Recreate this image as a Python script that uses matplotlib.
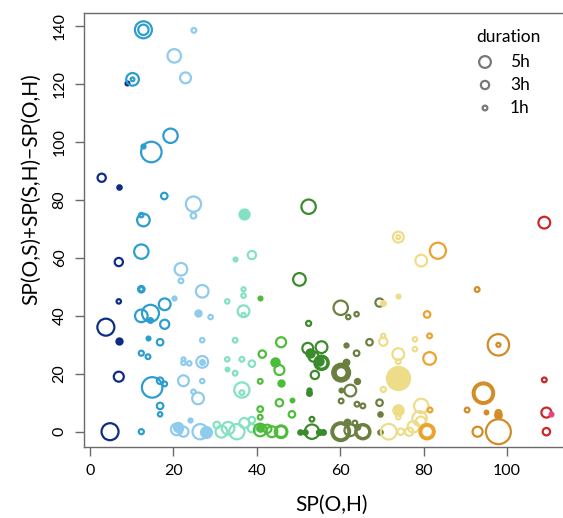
"""
Bubble scatter of SP(O,H) against SP(O,S)+SP(S,H)-SP(O,H).
Circle size encodes duration, colour follows the SP(O,H) band.
"""

import numpy as np
import matplotlib
matplotlib.use("Agg")
import matplotlib.pyplot as plt

plt.rcParams["font.family"] = ["Lato", "DejaVu Sans"]

# --- data ----------------------------------------------------------------
sp_oh = [
    # 0-10
    2.8, 6.9, 8.8, 6.9, 6.9, 3.8, 6.9, 6.9, 4.8,
    # 10-20
    12.8, 12.8, 10.2, 10.2, 19.3, 14.7, 12.8, 17.8, 12.8, 12.3, 12.3, 12.3, 12.3,
    17.9, 12.3, 14.5, 14.5, 17.9, 13.9, 16.8, 12.3, 13.9, 14.9, 16.8, 17.9,
    16.8, 16.8, 12.3,
    # 20-30
    24.9, 20.2, 22.9, 24.8, 24.8, 21.8, 21.8, 26.9, 20.2, 25.9, 28.9, 26.9,
    22.4, 23.8, 22.4, 26.9, 26.9, 22.4, 26.9, 25.9, 24.8, 24.0, 20.8, 21.0,
    22.4, 26.4, 27.8,
    # 30-40
    36.8, 34.8, 38.8, 36.8, 36.8, 32.9, 36.8, 36.8, 34.8, 32.9, 36.4, 38.8,
    32.9, 34.8, 36.4, 36.4, 30.4, 33.1, 35.2, 38.8, 38.8, 31.5, 37.0,
    # 40-50
    40.8, 45.8, 41.3, 44.4, 45.4, 40.8, 45.8, 48.4, 45.4, 40.8, 40.8, 48.4,
    40.8, 40.8, 43.6, 45.8, 45.8, 42.5,
    # 50-60
    52.4, 50.2, 52.4, 52.2, 55.5, 52.8, 53.6, 55.5, 55.5, 55.0, 53.9, 52.4,
    52.4, 53.2, 50.4, 51.5, 53.2, 55.0, 55.9,
    # 60-70
    60.1, 61.9, 63.9, 69.4, 61.4, 67.0, 63.9, 60.2, 60.2, 60.2, 60.2, 60.2,
    61.4, 62.4, 63.9, 60.2, 60.2, 64.0, 65.4, 69.4, 69.4, 61.6, 63.5, 60.1,
    60.1, 60.1, 62.4, 65.4, 65.4, 64.2, 69.4,
    # 70-80
    73.9, 73.9, 79.4, 73.9, 70.2, 70.3, 70.3, 77.9, 77.9, 73.9, 73.9, 73.9,
    70.3, 73.9, 73.9, 79.4, 79.0, 79.3, 71.6, 77.5, 76.5, 74.5,
    # 80-90
    83.4, 80.8, 81.4, 81.4, 81.5, 80.8, 80.8, 80.8,
    # 90-100
    92.8, 97.9, 97.9, 94.3, 94.3, 90.4, 95.0, 97.9, 97.9, 92.9, 97.9,
    # 100+
    108.9, 108.9, 109.4, 109.4, 110.4,
]

sp_diff = [
    87.7, 84.6, 120.3, 58.6, 45.0, 36.1, 31.4, 19.0, 0.0,
    138.8, 138.8, 121.7, 121.7, 102.2, 96.6, 98.7, 81.4, 73.1, 74.8, 62.2, 49.2, 49.2,
    44.0, 40.0, 40.9, 38.6, 37.1, 32.5, 30.9, 27.1, 25.9, 15.3, 17.6, 16.5,
    8.9, 6.0, 0.0,
    138.6, 129.8, 122.2, 78.6, 74.6, 56.1, 52.1, 48.5, 46.1, 41.1, 39.6, 31.6,
    23.8, 23.6, 25.0, 24.1, 24.1, 17.6, 17.5, 11.5, 13.8, 4.0, 0.8, 1.5,
    0.0, 0.0, 0.0,
    75.1, 59.5, 61.0, 49.2, 47.0, 45.0, 41.6, 40.3, 31.6, 25.0, 25.0, 23.5,
    21.6, 20.2, 14.4, 13.5, 2.3, 1.2, 0.0, 1.2, 4.0, 0.0, 3.0,
    46.1, 30.9, 26.8, 24.0, 21.3, 17.4, 16.7, 10.8, 10.0, 7.8, 5.0, 6.0,
    0.6, 1.2, 0.0, 0.0, 0.0, 1.0,
    77.7, 52.6, 37.4, 28.8, 29.2, 27.1, 25.9, 23.8, 23.8, 24.5, 19.6, 13.3,
    14.5, 4.3, 0.0, 0.0, 0.0, 0.0, 0.0,
    42.8, 39.6, 40.6, 44.6, 30.0, 30.9, 27.1, 20.4, 20.4, 20.4, 20.4, 20.4,
    24.2, 14.2, 17.5, 14.4, 10.6, 9.5, 8.9, 10.0, 6.0, 3.5, 3.0, 0.0,
    0.0, 0.0, 0.5, 0.0, 0.0, 1.5, 0.0,
    67.2, 67.2, 59.1, 47.0, 44.6, 31.1, 33.1, 31.9, 28.5, 26.8, 24.2, 18.4,
    14.6, 7.5, 5.0, 8.9, 4.6, 3.5, 0.0, 1.7, 0.0, 0.0,
    62.5, 40.5, 33.1, 25.3, 7.5, 0.0, 0.0, 0.0,
    49.1, 30.0, 30.0, 13.3, 13.3, 7.5, 6.9, 5.8, 6.5, 0.0, 0.0,
    72.2, 17.9, 6.6, 0.0, 6.1,
]

duration = [
    3, 0.8, 0.5, 3, 0.8, 8, 1.8, 4, 8,
    8, 4.2, 5.5, 0.4, 6.5, 10, 0.6, 2, 5.5, 0.8, 6.5, 2, 0.8,
    5, 5.5, 8, 1, 3.5, 0.5, 2, 1.2, 1, 10, 2, 1,
    2, 0.8, 1.2,
    1, 6, 4.5, 7, 1.5, 5.5, 1, 5.5, 0.6, 1.8, 0.8, 0.8,
    0.8, 0.8, 0.5, 5, 1, 4.5, 0.8, 5, 0.8, 0.6, 5, 3.5,
    4, 7, 4.5,
    4, 0.5, 3, 0.6, 0.8, 0.8, 5, 0.6, 1, 0.8, 1, 2,
    0.4, 1, 7, 1, 2, 5.5, 7, 3, 2, 5, 4,
    0.5, 4, 2.5, 3, 4, 1, 1.8, 0.4, 2.5, 1.5, 1, 2,
    5.5, 2, 4.5, 5.5, 4.5, 3,
    6.5, 5.5, 1.2, 4.5, 5, 3, 4, 6.5, 5, 3, 3, 1,
    0.6, 1, 0.8, 0.8, 6.5, 1.2, 1,
    6.5, 0.8, 0.8, 3, 0.6, 2, 1.5, 8.5, 7.5, 6.5, 5.5, 4.5,
    1.5, 5, 1.2, 0.5, 1, 1, 1, 2, 0.8, 1.5, 1, 9,
    8, 7, 5, 7, 5.5, 1, 0.8,
    4.5, 0.6, 5, 0.5, 1, 3, 0.8, 0.8, 0.8, 5, 1, 11.5,
    1.2, 4.2, 0.8, 6.5, 6.5, 4, 7.3, 4.8, 3, 2,
    7.5, 2, 1, 5.5, 1, 7, 6, 5,
    1, 10.5, 0.6, 10.5, 8.5, 1, 0.4, 2, 1.5, 4, 12.5,
    5, 1, 4, 2.5, 0.5,
]

filled = [
    0, 1, 1, 0, 0, 0, 1, 0, 0,
    0, 0, 0, 0, 0, 0, 1, 0, 0, 0, 0, 0, 0,
    0, 0, 0, 1, 0, 1, 0, 0, 0, 0, 0, 0,
    0, 0, 0,
    0, 0, 0, 0, 0, 0, 0, 0, 1, 1, 0, 0,
    0, 0, 0, 0, 1, 0, 0, 0, 0, 1, 0, 1,
    0, 0, 1,
    1, 1, 0, 0, 0, 0, 0, 0, 0, 0, 0, 0,
    1, 0, 0, 0, 0, 0, 0, 0, 0, 0, 0,
    1, 0, 0, 1, 0, 0, 1, 1, 0, 0, 0, 0,
    0, 1, 0, 0, 0, 0,
    0, 0, 0, 0, 0, 1, 0, 0, 0, 1, 0, 1,
    1, 0, 1, 1, 0, 1, 1,
    0, 0, 0, 0, 1, 0, 0, 0, 0, 0, 0, 0,
    1, 0, 1, 1, 0, 0, 0, 0, 1, 1, 0, 0,
    0, 0, 0, 0, 0, 0, 1,
    0, 0, 0, 1, 1, 0, 0, 0, 0, 0, 0, 1,
    0, 1, 0, 0, 0, 0, 0, 0, 0, 0,
    0, 0, 0, 0, 0, 0, 0, 0,
    0, 0, 0, 0, 0, 0, 1, 1, 0, 0, 0,
    0, 0, 0, 0, 1,
]

band_edges = [10, 20, 30, 40, 50, 60, 70, 80, 90, 100, 110]
band_colors = ["#0c2c86", "#2b9dcf", "#8ecbec", "#84e2c0", "#4dbc3a", "#3b8a2b",
               "#6b8040", "#eedd88", "#eca22f", "#d38b25", "#cc2727", "#e6457f"]

legend_hours = [5, 3, 1]
legend_labels = ["5h", "3h", "1h"]

# --- helpers --------------------------------------------------------------
DPI = 100
LW_PX = 2.2


def marker_area(hours):
    """Scatter area (pt^2) for a duration; diameter grows linearly."""
    diam_px = 3.0 + 1.75 * np.asarray(hours, dtype=float)
    return (diam_px * 72.0 / DPI) ** 2


x = np.array(sp_oh)
y = np.array(sp_diff)
d = np.array(duration)
solid = np.array(filled, dtype=bool)
colors = np.array(band_colors)[np.digitize(x, band_edges)]

# --- figure ---------------------------------------------------------------
fig = plt.figure(figsize=(5.63, 5.18), dpi=DPI)
ax = fig.add_axes([84 / 563, 71.3 / 518, 482 / 563, 433.4 / 518])

lw_pt = LW_PX * 72.0 / DPI
for i in range(len(x)):
    ax.scatter(x[i], y[i], s=marker_area(d[i]),
               facecolors=colors[i] if solid[i] else "none",
               edgecolors=colors[i], linewidths=lw_pt, zorder=3)

ax.set_xlim(-1.44, 114.1)
ax.set_ylim(-5.18, 144.5)
ax.set_xticks([0, 20, 40, 60, 80, 100])
ax.set_yticks([0, 20, 40, 60, 80, 100, 120, 140])

for side in ["left", "bottom", "top", "right"]:
    ax.spines[side].set_color("#6a6a6a")
    ax.spines[side].set_linewidth(1.0)
ax.tick_params(axis="both", direction="out", length=6.5, width=1.0,
               color="#6a6a6a", labelsize=11.5, pad=6)
for lab in ax.get_yticklabels():
    lab.set_rotation(90)
    lab.set_va("center")

ax.set_xlabel("SP(O,H)", fontsize=15)
ax.set_ylabel("SP(O,S)+SP(S,H)\u2212SP(O,H)", fontsize=15)
ax.xaxis.set_label_coords(0.514, -0.110)
ax.yaxis.set_label_coords(-0.088, 0.595)

# legend for the duration sizes
fig.text(508 / 563, 1 - 37 / 518, "duration", fontsize=12.5,
         ha="center", va="center")
for k, (h, lab) in enumerate(zip(legend_hours, legend_labels)):
    yy = 1 - (62 + 23 * k) / 518
    ax.scatter([485 / 563], [yy], s=marker_area(h), facecolors="none",
               edgecolors="#777777", linewidths=lw_pt,
               transform=fig.transFigure, clip_on=False, zorder=5)
    fig.text(510 / 563, yy, lab, fontsize=12.5, ha="left", va="center")

fig.savefig("out.png", dpi=DPI)
plt.close(fig)
